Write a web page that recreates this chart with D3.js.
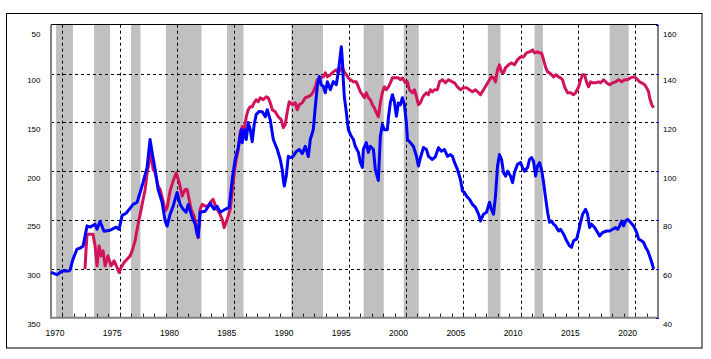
<!DOCTYPE html>
<html><head><meta charset="utf-8">
<script src="https://cdn.jsdelivr.net/npm/d3@7"></script>
<style>html,body{margin:0;padding:0;background:#fff;}svg{display:block;}</style>
</head><body>
<svg id="c" width="711" height="359"></svg>
<script>
// ---- data ----
const recessions = [[1970.44,1971.92],[1973.76,1975.16],[1976.99,1977.81],[1980.03,1983.14],[1985.36,1986.81],[1990.98,1993.75],[1997.30,1999.05],[2000.80,2002.11],[2008.14,2009.25],[2012.22,2012.95],[2018.78,2020.44]];
const leftTicks = [50,100,150,200,250,300,350];
const rightTicks = [160,140,120,100,80,60,40];
const yearLabels = [1970,1975,1980,1985,1990,1995,2000,2005,2010,2015,2020];
const gridYears = [1971,1976,1981,1986,1991,1996,2001,2006,2011,2016,2021];

// red: yen per dollar (left axis, inverted)
const usdJpy = [[1972.97,300.3],[1973.06,279.9],[1973.15,264.6],[1973.41,264.6],[1973.67,264.6],[1973.85,276.5],[1974.02,296.9],[1974.20,276.5],[1974.37,286.7],[1974.55,281.6],[1974.72,296.9],[1974.98,286.7],[1975.24,296.9],[1975.51,291.8],[1975.77,298.6],[1975.94,303.7],[1976.12,298.6],[1976.38,293.5],[1976.64,290.1],[1976.91,286.7],[1977.08,281.6],[1977.34,271.4],[1977.52,259.5],[1977.69,249.3],[1977.87,239.1],[1978.04,228.9],[1978.22,218.7],[1978.39,201.6],[1978.57,191.1],[1978.74,181.2],[1978.92,198.3],[1979.09,201.3],[1979.35,215.3],[1979.53,218.7],[1979.79,230.6],[1979.97,240.8],[1980.14,237.3],[1980.40,220.4],[1980.66,210.2],[1980.93,201.6],[1981.19,211.5],[1981.45,225.5],[1981.71,218.7],[1981.89,218.7],[1982.06,228.9],[1982.24,239.1],[1982.50,245.9],[1982.67,256.1],[1982.85,268.0],[1983.02,239.1],[1983.20,234.0],[1983.46,235.7],[1983.72,235.7],[1983.99,230.6],[1984.16,228.9],[1984.42,237.3],[1984.69,242.4],[1984.95,249.3],[1985.12,257.8],[1985.38,249.3],[1985.65,239.1],[1985.82,222.0],[1986.00,201.6],[1986.17,188.1],[1986.35,177.9],
[1986.52,160.5],[1986.70,154.4],[1986.87,157.5],[1987.05,144.2],[1987.22,137.1],[1987.39,134.0],[1987.57,134.0],[1987.74,129.9],[1987.92,126.8],[1988.09,128.9],[1988.27,124.8],[1988.53,126.8],[1988.79,123.8],[1988.97,124.8],[1989.14,129.9],[1989.32,137.1],[1989.58,139.1],[1989.84,144.2],[1990.10,147.2],[1990.28,155.4],[1990.45,152.3],[1990.63,139.1],[1990.80,128.9],[1991.07,131.9],[1991.33,129.9],[1991.50,137.1],[1991.68,131.9],[1991.94,129.9],[1992.20,124.8],[1992.46,123.8],[1992.73,121.7],[1992.90,118.7],[1993.08,113.6],[1993.25,106.4],[1993.51,104.4],[1993.78,103.4],[1993.95,99.3],[1994.13,103.4],[1994.39,101.3],[1994.65,98.3],[1994.91,96.2],[1995.09,99.3],[1995.26,96.2],[1995.44,93.2],[1995.61,98.3],[1995.79,101.3],[1995.96,104.4],[1996.14,106.4],[1996.40,108.5],[1996.66,108.5],[1996.84,113.6],[1997.01,118.7],[1997.19,121.7],[1997.36,124.8],[1997.53,119.7],[1997.71,124.8],[1997.88,126.8],[1998.06,131.9],[1998.23,135.0],[1998.41,140.1],[1998.58,144.2],[1998.76,129.9],[1998.93,119.7],[1999.11,113.6],[1999.28,116.6],[1999.46,113.6],[1999.63,109.5],[1999.81,104.4],[2000.07,104.4],[2000.33,104.4],[2000.51,106.4],[2000.68,104.4],[2000.94,109.5],[2001.12,108.5],[2001.29,116.6],[2001.56,119.7],[2001.73,116.6],[2001.91,123.8],[2002.08,131.9],[2002.26,129.9],[2002.43,124.8],[2002.60,121.7],[2002.78,119.7],[2002.95,121.7],[2003.13,116.6],[2003.30,118.7],[2003.48,116.6],[2003.74,116.6],[2003.92,108.5],[2004.18,106.4],[2004.44,109.5],[2004.70,106.4],[2005.05,108.5],[2005.23,109.5],[2005.49,113.6],[2005.75,116.6],[2006.01,114.6],[2006.28,114.6],[2006.54,116.6],[2006.80,118.7],[2007.06,116.6],[2007.33,119.7],[2007.50,121.7],[2007.76,116.6],[2008.03,111.5],[2008.29,106.4],[2008.46,103.4],[2008.64,104.4],[2008.81,108.5],[2008.99,96.2],[2009.16,91.1],[2009.33,98.3],[2009.51,99.3],[2009.68,94.2],[2009.95,91.1],[2010.21,89.1],[2010.47,91.1],[2010.73,86.0],[2011.00,83.0],[2011.26,83.0],[2011.52,78.9],[2011.78,77.9],[2012.05,75.8],[2012.22,78.9],[2012.48,77.9],[2012.66,78.9],[2012.83,78.9],[2013.01,86.0],[2013.18,93.2],[2013.36,98.3],[2013.53,99.3],[2013.71,101.3],[2013.88,103.4],[2014.06,101.3],[2014.32,103.4],[2014.49,104.4],[2014.67,106.4],[2014.84,113.6],[2015.10,119.7],[2015.37,119.7],[2015.63,121.7],[2015.80,119.7],[2016.07,113.6],[2016.24,106.4],[2016.41,101.3],[2016.59,101.3],[2016.76,108.5],[2016.94,113.6],[2017.11,108.5],[2017.29,109.5],[2017.55,109.5],[2017.81,108.5],[2017.99,109.5],[2018.25,106.4],[2018.51,109.5],[2018.77,111.5],[2019.04,109.5],[2019.30,108.5],[2019.56,106.4],[2019.83,108.5],[2020.09,106.4],[2020.35,106.4],[2020.61,104.4],[2020.87,103.4],[2021.05,104.4],[2021.22,106.4],[2021.40,108.5],[2021.57,109.5],[2021.83,111.5],[2022.01,114.6],[2022.18,118.7],[2022.27,124.8],[2022.45,131.9],[2022.62,135.0]];

// blue: real effective exchange rate index (right axis)
const reer = [[1970.00,58.6],[1970.52,57.6],[1970.96,59.1],[1971.49,59.1],[1971.66,59.5],[1971.92,64.0],[1972.27,68.1],[1972.53,68.5],[1972.80,69.3],[1973.15,77.6],[1973.41,77.1],[1973.85,78.3],[1974.02,76.2],[1974.28,79.5],[1974.63,75.4],[1975.16,75.8],[1975.68,77.1],[1975.94,76.2],[1976.21,81.9],[1976.56,82.8],[1977.17,86.4],[1977.52,87.3],[1977.78,91.3],[1978.04,95.4],[1978.22,98.7],[1978.39,101.5],[1978.65,113.0],[1978.83,107.7],[1979.09,100.7],[1979.35,92.6],[1979.70,87.3],[1979.97,79.5],[1980.14,77.5],[1980.40,82.4],[1980.66,85.6],[1981.01,91.3],[1981.28,86.4],[1981.54,84.4],[1981.80,83.2],[1981.98,86.4],[1982.33,81.1],[1982.59,78.3],[1982.76,74.2],[1982.85,73.0],[1983.02,83.2],[1983.46,83.6],[1983.90,86.8],[1984.25,84.4],[1984.51,85.6],[1984.77,83.2],[1985.21,84.4],[1985.56,85.2],[1985.82,96.6],[1986.08,104.8],[1986.35,109.7],[1986.61,117.0],[1986.70,111.7],[1986.87,117.0],[1987.05,113.0],[1987.22,119.9],[1987.40,117.0],[1987.57,112.1],[1987.74,119.1],[1987.92,123.2],[1988.18,124.5],[1988.44,124.4],[1988.71,122.3],[1988.88,125.2],[1989.14,121.1],[1989.41,113.0],[1989.76,108.9],[1990.02,104.8],[1990.19,100.7],[1990.28,96.6],[1990.37,93.9],[1990.54,98.0],[1990.72,106.1],[1990.89,105.6],[1991.15,106.1],[1991.42,108.1],[1991.68,108.9],[1991.94,107.2],[1992.20,110.2],[1992.47,106.0],[1992.64,113.0],[1992.90,117.0],[1993.08,126.5],[1993.25,134.7],[1993.43,138.8],[1993.60,135.4],[1993.78,134.7],[1993.95,132.1],[1994.13,136.6],[1994.39,133.4],[1994.65,136.7],[1994.91,135.4],[1995.09,140.7],[1995.35,151.0],[1995.44,145.6],[1995.52,137.4],[1995.61,130.6],[1995.79,124.0],[1995.96,117.0],[1996.22,114.3],[1996.40,113.0],[1996.57,110.2],[1996.84,107.7],[1997.01,103.6],[1997.19,101.5],[1997.27,108.9],[1997.53,111.7],[1997.71,107.7],[1997.88,110.2],[1998.15,108.9],[1998.32,100.7],[1998.58,96.2],[1998.76,114.3],[1998.93,119.1],[1999.11,117.0],[1999.37,117.0],[1999.46,121.9],[1999.63,128.1],[1999.81,131.3],[1999.98,128.6],[2000.16,122.5],[2000.33,127.9],[2000.51,127.2],[2000.68,130.1],[2000.86,127.2],[2001.03,119.9],[2001.12,113.0],[2001.38,111.7],[2001.64,110.2],[2001.91,106.1],[2002.08,102.1],[2002.26,105.6],[2002.52,109.7],[2002.78,108.9],[2002.96,106.1],[2003.30,104.8],[2003.57,106.0],[2003.83,109.6],[2004.09,108.2],[2004.35,108.9],[2004.62,106.1],[2004.88,106.8],[2005.05,106.1],[2005.23,103.6],[2005.49,100.7],[2005.75,96.6],[2005.93,91.9],[2006.10,91.3],[2006.28,89.8],[2006.54,88.5],[2006.80,86.4],[2007.06,85.2],[2007.33,82.4],[2007.50,79.6],[2007.76,82.4],[2008.03,83.2],[2008.29,87.3],[2008.46,84.4],[2008.64,82.4],[2008.81,89.8],[2008.99,102.1],[2009.16,106.8],[2009.34,104.8],[2009.51,99.5],[2009.69,98.0],[2009.86,100.0],[2010.12,98.0],[2010.30,95.3],[2010.47,99.5],[2010.73,102.8],[2011.00,103.6],[2011.17,101.5],[2011.35,100.0],[2011.61,101.5],[2011.78,104.8],[2011.96,105.6],[2012.13,104.1],[2012.31,98.0],[2012.48,102.1],[2012.66,103.5],[2012.83,100.7],[2013.01,95.4],[2013.18,89.3],[2013.36,83.2],[2013.53,79.1],[2013.71,79.6],[2013.88,78.3],[2014.06,77.6],[2014.32,75.5],[2014.49,76.2],[2014.76,74.2],[2015.02,71.5],[2015.28,69.4],[2015.45,68.8],[2015.63,71.5],[2015.89,72.2],[2016.07,75.5],[2016.24,79.0],[2016.42,82.4],[2016.68,84.4],[2016.85,82.4],[2017.03,76.9],[2017.20,78.3],[2017.47,76.9],[2017.73,74.9],[2017.90,73.5],[2018.16,74.9],[2018.51,75.5],[2018.78,75.5],[2019.04,76.2],[2019.30,76.9],[2019.48,76.2],[2019.65,77.6],[2019.83,79.6],[2020.00,77.6],[2020.17,79.6],[2020.35,80.3],[2020.61,79.0],[2020.87,77.6],[2021.14,74.9],[2021.31,72.2],[2021.57,71.5],[2021.75,70.8],[2021.92,68.8],[2022.10,67.4],[2022.27,65.3],[2022.45,62.7],[2022.62,60.0]];

// ---- layout ----
const L = 51, R = 658, T = 24.7, B = 317.7;
const svg = d3.select("#c");
const x = d3.scaleLinear().domain([1970, 2023]).range([L, R]);
const yL = d3.scaleLinear().domain([50, 350]).range([T, B]);
const yR = d3.scaleLinear().domain([160, 40]).range([T, B]);
const font = "'Liberation Sans', Arial, sans-serif";

svg.append("rect").attr("width",711).attr("height",359).attr("fill","#fff");
// outer frame
svg.append("rect").attr("x",6.5).attr("y",13.5).attr("width",695.5).attr("height",334.5)
  .attr("fill","none").attr("stroke","#000").attr("stroke-width",1);

// recession bands
svg.append("g").selectAll("rect").data(recessions).join("rect")
  .attr("x", d => x(d[0])).attr("width", d => x(d[1]) - x(d[0]))
  .attr("y", T).attr("height", B - T).attr("fill", "#c0c0c0");

// grid
const grid = svg.append("g").attr("stroke","#000").attr("stroke-width",1).attr("stroke-dasharray","3,3");
grid.selectAll("line.h").data(leftTicks.slice(1, -1)).join("line").attr("class","h")
  .attr("x1", L).attr("x2", R).attr("y1", d => Math.round(yL(d)) + 0.5).attr("y2", d => Math.round(yL(d)) + 0.5);
grid.selectAll("line.v").data(gridYears).join("line").attr("class","v")
  .attr("x1", d => Math.round(x(d)) + 0.5).attr("x2", d => Math.round(x(d)) + 0.5).attr("y1", T).attr("y2", B);

// top border
svg.append("line").attr("x1",L).attr("x2",R).attr("y1",24.5).attr("y2",24.5).attr("stroke","#000").attr("stroke-width",1);

// year ticks on bottom axis
const yearsAll = d3.range(1971, 2023);
svg.append("g").selectAll("line").data(yearsAll).join("line")
  .attr("x1", d => Math.round(x(d)) + 0.5).attr("x2", d => Math.round(x(d)) + 0.5)
  .attr("y1", B - 4).attr("y2", B).attr("stroke","#222").attr("stroke-width",1);

// axis lines (gray)
const ax = svg.append("g").attr("stroke","#808080").attr("stroke-width",2);
ax.append("line").attr("x1",L).attr("x2",L).attr("y1",T).attr("y2",B+1);
ax.append("line").attr("x1",R).attr("x2",R).attr("y1",T).attr("y2",B+1);
ax.append("line").attr("x1",L).attr("x2",R).attr("y1",B).attr("y2",B);

// small blue marks on right axis
svg.append("g").selectAll("line").data(rightTicks).join("line")
  .attr("x1", R - 2).attr("x2", R + 1).attr("y1", d => Math.round(yR(d)) + 0.5).attr("y2", d => Math.round(yR(d)) + 0.5)
  .attr("stroke","#0000ff").attr("stroke-width",1);

// series
const lineL = d3.line().x(d => x(d[0])).y(d => yL(d[1]));
const lineR = d3.line().x(d => x(d[0])).y(d => yR(d[1]));
svg.append("path").datum(usdJpy).attr("d", lineL).attr("fill","none")
  .attr("stroke","#d2125c").attr("stroke-width",3).attr("stroke-linejoin","round");
svg.append("path").datum(reer).attr("d", lineR).attr("fill","none")
  .attr("stroke","#0000ff").attr("stroke-width",3).attr("stroke-linejoin","round");

// labels
const lab = svg.append("g").attr("font-family", font).attr("font-size", 8).attr("fill","#000");
lab.selectAll("text.l").data(leftTicks).join("text").attr("class","l")
  .attr("x", 40.5).attr("text-anchor","end")
  .attr("y", (d,i) => yL(d) + (i === 0 ? 12.6 : 9.3)).text(d => d);
lab.selectAll("text.r").data(rightTicks).join("text").attr("class","r")
  .attr("x", 663).attr("text-anchor","start")
  .attr("y", (d,i) => yR(d) + (i === 0 ? 12.6 : 9.3)).text(d => d);
lab.selectAll("text.b").data(yearLabels).join("text").attr("class","b")
  .attr("x", d => x(d) + 4).attr("text-anchor","middle").attr("font-size", 8.5)
  .attr("y", 335.5).text(d => d);
</script>
</body></html>
